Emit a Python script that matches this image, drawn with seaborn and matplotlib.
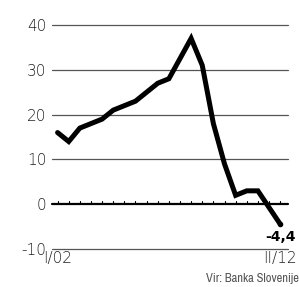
import matplotlib
matplotlib.use("Agg")
import matplotlib.pyplot as plt
import seaborn as sns
import pandas as pd
from matplotlib import font_manager

# semi-annual values, I/02 .. II/12
values = [16, 14, 17, 18, 19, 21, 22, 23, 25, 27, 28, 32.5, 37, 31, 18, 9, 2, 3, 3, -0.7, -4.4]
y_ticks = [-10, 0, 10, 20, 30, 40]
x_labels = ["I/02", "II/12"]
last_label = "-4,4"
source = "Vir: Banka Slovenije"

df = pd.DataFrame({"t": range(len(values)), "v": values})

sns.set_style("white")
plt.rcParams["font.family"] = ["DejaVu Sans"]
names = sorted({f.name for f in font_manager.fontManager.ttflist})
narrow = [n for n in names if "Narrow" in n or "Condensed" in n]

fig = plt.figure(figsize=(2.99, 2.87), dpi=100)
ax = fig.add_axes([0.174, 0.132, 0.789, 0.781])

# grid lines
for y in y_ticks:
    if y == 0:
        ax.axhline(0, color="black", lw=1.6, zorder=1, clip_on=False)
    else:
        ax.axhline(y, color="#555555", lw=0.9, zorder=1, clip_on=False)

# small ticks on zero line
for t in df["t"]:
    ax.plot([t, t], [0, 0.8], color="black", lw=0.8, zorder=1)

sns.lineplot(data=df, x="t", y="v", ax=ax, color="black", lw=3.6,
             solid_joinstyle="miter", zorder=3)
ax.plot(df["t"].iloc[-1], values[-1], "o", color="black", ms=3, zorder=4)

ax.set_xlim(-0.5, 20.7)
ax.set_ylim(-10, 40)
ax.set_yticks(y_ticks)
ax.set_yticklabels([str(y) for y in y_ticks], fontsize=11, color="#222222",
                   fontweight="light")
ax.tick_params(axis="y", length=0, pad=4)
ax.set_xticks([0, len(values) - 1])
ax.set_xticklabels(x_labels, fontsize=11, color="#222222", fontweight="light")
ax.tick_params(axis="x", length=0, pad=1)
ax.set_xlabel("")
ax.set_ylabel("")
for s in ax.spines.values():
    s.set_visible(False)

ax.text(len(values) - 1, values[-1] - 1.3, last_label, ha="center", va="top",
        fontsize=10, fontweight="bold", color="black")
fig.text(1.0, 0.012, source, ha="right", va="bottom", fontsize=9,
         color="#555555", family=narrow[:1] + ["DejaVu Sans"])

fig.savefig("out.png", dpi=100)
